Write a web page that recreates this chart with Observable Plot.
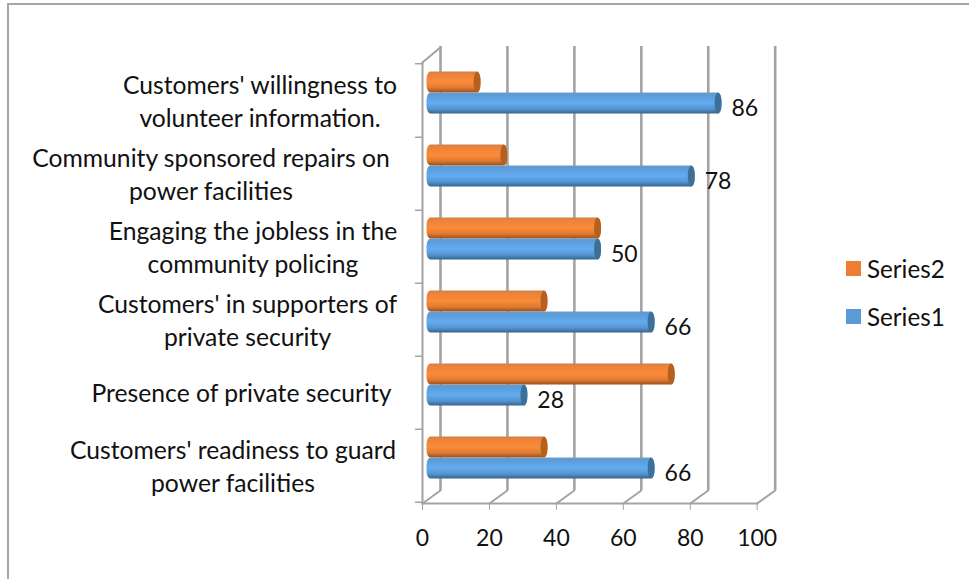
<!DOCTYPE html>
<html>
<head>
<meta charset="utf-8">
<script src="https://cdn.jsdelivr.net/npm/d3@7"></script>
<script src="https://cdn.jsdelivr.net/npm/@observablehq/plot@0.6"></script>
<style>
  html, body { margin: 0; padding: 0; background: #fff; overflow: hidden; }
  #chart { position: absolute; left: 0; top: 0; width: 969px; height: 579px; font-family: Lato, sans-serif; }
  #chart svg { position: absolute; left: 0; top: 0; background: transparent; }
  #border { position: absolute; left: 7px; top: 3px; right: 0; bottom: 0; border-left: 2px solid #a6a6a6; border-top: 2px solid #a6a6a6; }
  .key { position: absolute; left: 846px; font: 24.2px Lato, sans-serif; color: #111; display: flex; align-items: center; height: 26px; }
  .key i { display: block; width: 15px; height: 15px; margin-right: 6px; }
</style>
</head>
<body>
<div id="chart"><div id="border"></div></div>
<script>
const categories = ["Customers' willingness to volunteer", "Community sponsored repairs", "Engaging the jobless", "Customers' in supporters", "Presence of private security", "Customers' readiness to guard"];
const labelLines = [
  ["Customers' willingness to", "volunteer information."],
  ["Community sponsored repairs on", "power facilities"],
  ["Engaging the jobless in the", "community policing"],
  ["Customers' in supporters of", "private security"],
  ["Presence of private security"],
  ["Customers' readiness to guard", "power facilities"]
];
const series1 = [86, 78, 50, 66, 28, 66];
const series2 = [14, 22, 50, 34, 72, 34];
const xTicks = [0, 20, 40, 60, 80, 100];

// label layout: horizontal centre of each label relative to the axis
const labelCentres = [-162.5, -211.5, -169.5, -175, -181, -189.5];

const gray = "#a3a3a3";
const rows = categories.map((c, i) => ({c, s1: series1[i], s2: series2[i]}));

const defs = () => {
  const d = d3.create("svg:defs");
  const grad = (id, stops) => {
    const g = d.append("linearGradient").attr("id", id).attr("x1", 0).attr("y1", 0).attr("x2", 0).attr("y2", 1);
    stops.forEach(([o, col]) => g.append("stop").attr("offset", o).attr("stop-color", col));
  };
  grad("blueBar", [[0, "#6f9cc6"], [0.12, "#5a9bd8"], [0.5, "#62acf0"], [0.78, "#5594d0"], [1, "#356489"]]);
  grad("orangeBar", [[0, "#c9824c"], [0.12, "#ec8138"], [0.5, "#fb8b3a"], [0.78, "#e07a30"], [1, "#9a4e1c"]]);
  return d.node();
};

const spoke = {draw(ctx, l) { ctx.moveTo(0, 0); ctx.lineTo(0, -l); }};
const barBase = {y: "c", dy: -7.5, dx: 4.5, insetRight: -7.2};
const capBase = {y: "c", dy: -7.5, dx: 11.7, insetLeft: -7, rx: 3.5, ry: 10.5};

const marks = [
  defs,
  // back wall gridlines
  Plot.ruleX(xTicks, {dx: 18, dy: -13, insetTop: -3, stroke: gray, strokeWidth: 2.6}),
  // floor spokes
  Plot.vector(xTicks, {x: d => d, frameAnchor: "bottom", length: 22.2, rotate: 54, anchor: "start", shape: spoke, stroke: gray, strokeWidth: 2}),
  Plot.vector([0], {x: d => d, frameAnchor: "top", length: 24, rotate: 50, anchor: "start", shape: spoke, stroke: gray, strokeWidth: 2}),
  // front axis lines
  Plot.frame({anchor: "left", stroke: gray, strokeWidth: 2}),
  Plot.frame({anchor: "bottom", stroke: gray, strokeWidth: 2}),
  Plot.vector(categories, {y: d => d, x: 0, dy: 36.75, rotate: -90, length: 7, anchor: "start", shape: spoke, stroke: gray, strokeWidth: 1.5}),
  Plot.vector(categories.slice(0, 1), {y: d => d, x: 0, dy: -36.75, rotate: -90, length: 7, anchor: "start", shape: spoke, stroke: gray, strokeWidth: 1.5}),
  // bars
  Plot.barX(rows, {...barBase, x1: 0, x2: "s2", insetBottom: 21, fill: "url(#orangeBar)", rx: 4, ry: 8}),
  Plot.barX(rows, {...capBase, x1: "s2", x2: "s2", insetBottom: 21, fill: "#b5601f"}),
  Plot.barX(rows, {...barBase, x1: 0, x2: "s1", insetTop: 21, fill: "url(#blueBar)", rx: 4, ry: 8}),
  Plot.barX(rows, {...capBase, x1: "s1", x2: "s1", insetTop: 21, fill: "#3d7099"}),
  // value labels
  Plot.text(rows, {x: "s1", y: "c", text: d => String(d.s1), dx: 34.5, dy: 8, fontSize: 23, fill: "#111"}),
  // x axis
  Plot.axisX({ticks: xTicks, tickSize: 7, tickPadding: 19, stroke: gray, fontSize: 23, tickFormat: d => d, label: null, anchor: "bottom", fill: "#111"})
];

// category labels, one text mark per line
labelLines.forEach((lines, i) => lines.forEach((line, j) => {
  const off = lines.length === 2 ? (j === 0 ? -16.4 : 16.4) : 0;
  marks.push(Plot.text([line], {
    x: () => 0, y: () => categories[i], text: d => d,
    dx: labelCentres[i], dy: off + 2,
    textAnchor: "middle", fontSize: 24.7, fill: "#111"
  }));
}));

const chart = Plot.plot({
  width: 969, height: 579,
  marginLeft: 422, marginRight: 212.3, marginTop: 62, marginBottom: 76,
  x: {domain: [0, 100]},
  y: {domain: categories, paddingInner: 0.43, paddingOuter: 0.215, axis: null},
  style: {fontFamily: "Lato, sans-serif", background: "transparent", overflow: "visible"},
  marks
});
const root = document.getElementById("chart");
root.appendChild(chart);

[["Series2", "#ed7d31", 255], ["Series1", "#5b9bd5", 303]].forEach(([name, col, top]) => {
  const k = document.createElement("div");
  k.className = "key";
  k.style.top = top + "px";
  k.innerHTML = `<i style="background:${col}"></i><span>${name}</span>`;
  root.appendChild(k);
});
</script>
</body>
</html>
